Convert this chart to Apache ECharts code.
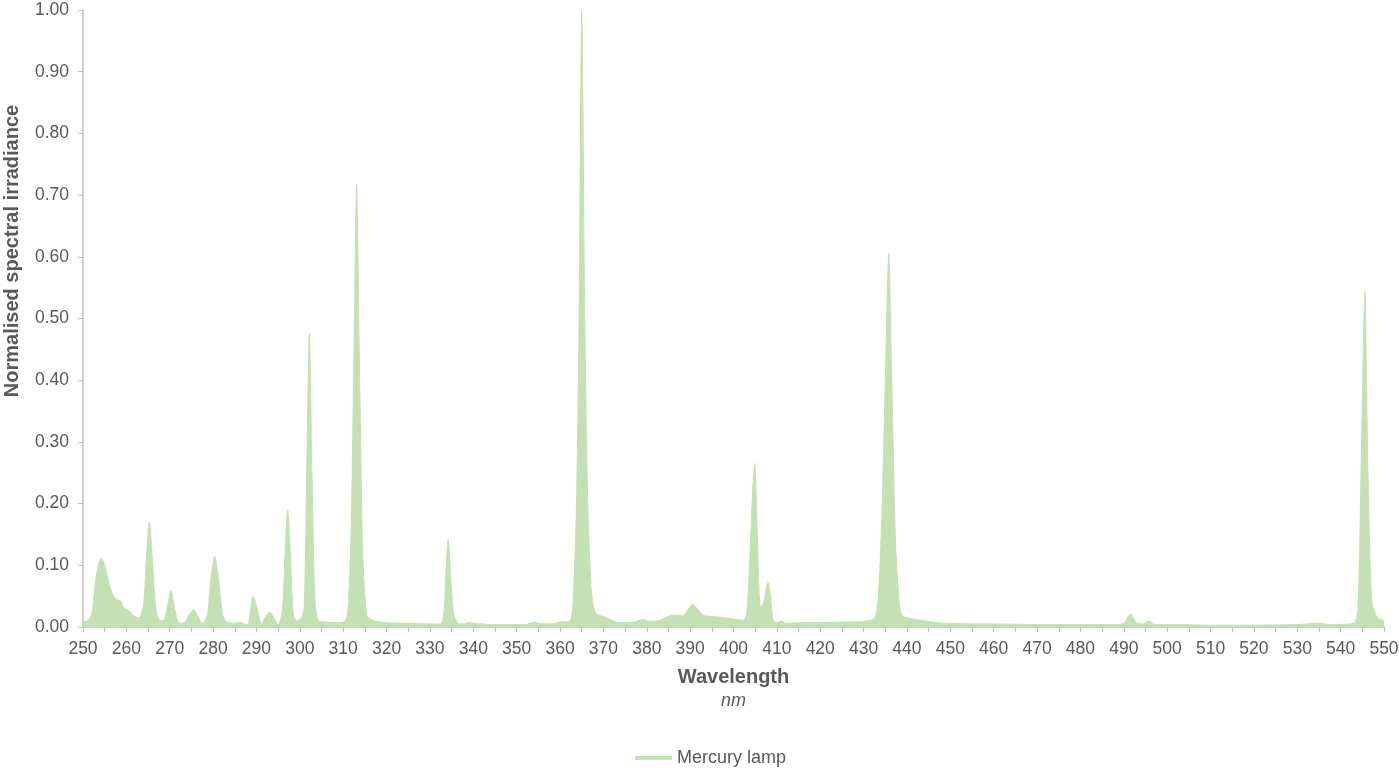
<!DOCTYPE html>
<html>
<head>
<meta charset="utf-8">
<script src="https://cdn.jsdelivr.net/npm/echarts@6/dist/echarts.min.js"></script>
<style>
  html, body { margin: 0; padding: 0; background: #fff; }
  #chart { width: 1399px; height: 770px; }
</style>
</head>
<body>
<div id="chart"></div>
<script>
// 波长 (nm)
const wavelengths = [
  250, 251, 252, 253, 254.2, 255, 256, 257, 258, 258.7, 259.5, 260.3, 261, 262, 263,
  264, 264.7, 265.3, 266, 266.8, 267.8, 268.8, 269.5, 270.3, 271, 271.8, 272.5, 273.5,
  274.5, 275.4, 276.3, 277.5, 278.7, 279.5, 280.4, 281.2, 282.2, 283.2, 285, 286.2,
  287.2, 288, 288.6, 289.2, 290, 291.2, 292.2, 293.1, 294, 295, 296, 296.6, 297.2,
  297.8, 298.5, 299.3, 300.3, 301, 301.6, 302.2, 302.8, 303.5, 304.3, 306, 308, 310,
  311, 311.8, 312.5, 313.1, 313.7, 314.5, 315.4, 316.5, 318, 320, 325, 330, 332.5,
  333.3, 333.7, 334.2, 334.8, 335.5, 336.5, 338, 339, 340, 345, 350, 352, 354, 355,
  358, 360, 362.3, 363, 363.8, 364.4, 365, 365.7, 366.4, 367.2, 368, 368.8, 370, 371,
  373, 375, 377, 379, 381, 383, 386, 388.3, 389.5, 390.6, 391.6, 393, 395, 397, 400,
  402.2, 403, 403.7, 404.4, 404.9, 405.5, 406.2, 407, 407.6, 408, 408.5, 409.2, 410.2,
  411, 412, 415, 420, 425, 429.8, 432.6, 433.5, 434.3, 435, 435.8, 436.5, 437.3, 438.2,
  439, 442.3, 447, 450, 455, 460, 470, 480, 488, 490, 491.6, 493, 494.5, 495.8, 497,
  500, 510, 520, 530, 535.6, 537, 543, 544, 544.7, 545.6, 546.3, 547.2, 548.4, 550
];

// 归一化光谱辐照度
const irradiance = [
  0.008, 0.01, 0.02, 0.08, 0.112, 0.1, 0.07, 0.05, 0.044, 0.042, 0.03, 0.027, 0.024, 0.017, 0.015,
  0.04, 0.12, 0.17, 0.11, 0.03, 0.01, 0.012, 0.035, 0.06, 0.035, 0.01, 0.006, 0.008,
  0.02, 0.028, 0.02, 0.005, 0.02, 0.08, 0.115, 0.08, 0.02, 0.008, 0.006, 0.008,
  0.005, 0.004, 0.025, 0.05, 0.035, 0.005, 0.018, 0.024, 0.015, 0.003, 0.03, 0.12, 0.19,
  0.12, 0.02, 0.01, 0.014, 0.03, 0.25, 0.476, 0.25, 0.04, 0.01, 0.008, 0.007, 0.008,
  0.02, 0.15, 0.45, 0.718, 0.45, 0.12, 0.02, 0.012, 0.009, 0.007, 0.006, 0.005, 0.005,
  0.03, 0.09, 0.143, 0.08, 0.02, 0.006, 0.005, 0.008, 0.006, 0.004, 0.004, 0.004, 0.008, 0.006,
  0.005, 0.008, 0.01, 0.04, 0.2, 0.5, 1.0, 0.5, 0.2, 0.06, 0.025, 0.02, 0.017, 0.014,
  0.008, 0.007, 0.008, 0.012, 0.009, 0.011, 0.019, 0.018, 0.028, 0.037, 0.03, 0.019, 0.017, 0.016, 0.013,
  0.011, 0.02, 0.1, 0.22, 0.265, 0.15, 0.033, 0.04, 0.065, 0.073, 0.05, 0.01, 0.007,
  0.01, 0.006, 0.007, 0.007, 0.008, 0.009, 0.015, 0.06, 0.2, 0.4, 0.605, 0.4, 0.15, 0.04,
  0.018, 0.012, 0.007, 0.006, 0.005, 0.005, 0.004, 0.004, 0.004, 0.006, 0.021, 0.006, 0.005, 0.01, 0.004,
  0.004, 0.003, 0.003, 0.004, 0.006, 0.004, 0.006, 0.03, 0.25, 0.543, 0.25, 0.04, 0.016, 0.01
];

const seriesName = 'Mercury lamp';
const xTitle = 'Wavelength';
const xUnit = 'nm';
const yTitle = 'Normalised spectral irradiance';

const green = '#c5e0b4';
const textColor = '#595959';
const axisColor = '#bfbfbf';
const fontFamily = '"Liberation Sans", Arial, sans-serif';

const chart = echarts.init(document.getElementById('chart'));

const option = {
  animation: false,
  textStyle: { fontFamily },
  grid: { left: 83, right: 15, top: 10, bottom: 143, containLabel: false, outerBoundsMode: 'none' },
  legend: {
    top: 744,
    left: 630,
    icon: 'rect',
    itemWidth: 37,
    itemHeight: 4,
    itemGap: 10,
    textStyle: { color: textColor, fontSize: 18, fontFamily },
    data: [seriesName],
  },
  // y 轴标题（原图中偏上）
  graphic: [
    {
      type: 'text',
      x: 12,
      y: 251,
      rotation: Math.PI / 2,
      style: {
        text: yTitle,
        fill: textColor,
        font: 'bold 20px "Liberation Sans", Arial, sans-serif',
        align: 'center',
        verticalAlign: 'middle',
      },
    },
  ],
  xAxis: {
    type: 'value',
    min: 250,
    max: 550,
    interval: 10,
    name: '{a|' + xTitle + '}\n{b|' + xUnit + '}',
    nameLocation: 'middle',
    nameGap: 38,
    nameTextStyle: {
      rich: {
        a: { fontSize: 20, fontWeight: 'bold', color: textColor, fontFamily, lineHeight: 24 },
        b: { fontSize: 18, fontStyle: 'italic', color: textColor, fontFamily, lineHeight: 23 },
      },
    },
    axisLine: { lineStyle: { color: axisColor, width: 1.5 } },
    axisTick: { show: true, length: 5, lineStyle: { color: axisColor } },
    minorTick: { show: true, splitNumber: 2, length: 5, lineStyle: { color: axisColor } },
    axisLabel: { color: textColor, fontSize: 17.5, margin: 13, fontFamily },
    splitLine: { show: false },
  },
  yAxis: {
    type: 'value',
    min: 0,
    max: 1,
    interval: 0.1,
    axisLine: { show: true, lineStyle: { color: axisColor, width: 1.5 } },
    axisTick: { show: true, length: 5, lineStyle: { color: axisColor } },
    axisLabel: {
      color: textColor,
      fontSize: 17.5,
      margin: 14,
      fontFamily,
      formatter: v => v.toFixed(2),
    },
    splitLine: { show: false },
  },
  series: [
    {
      name: seriesName,
      type: 'line',
      data: wavelengths.map((w, i) => [w, irradiance[i]]),
      symbol: 'none',
      smooth: 0.25,
      color: green,
      lineStyle: { color: green, width: 1 },
      areaStyle: { color: green, opacity: 1 },
      z: 1,
    },
  ],
};

chart.setOption(option);
</script>
</body>
</html>
